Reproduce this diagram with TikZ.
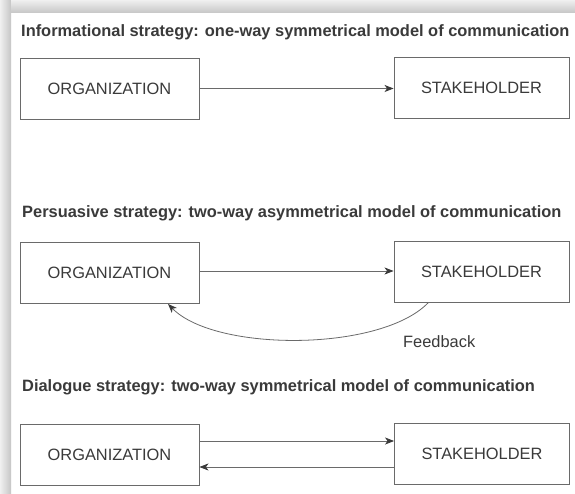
\documentclass[tikz,border=0pt]{standalone}
\usepackage{fontspec}
\setmainfont{Liberation Sans}
\usepackage{tikz}
\usetikzlibrary{arrows.meta}
\definecolor{inkgrey}{HTML}{3A3A3A}
\definecolor{linegrey}{HTML}{6A6A6A}

\tikzset{
  partybox/.style={draw=linegrey, line width=0.9pt, inner sep=0pt,
    minimum height=61pt, text=inkgrey,
    font=\fontsize{16.4}{19}\selectfont},
  headline/.style={anchor=west, inner sep=0pt, text=inkgrey,
    font=\bfseries\fontsize{16.4}{19}\selectfont},
  flow/.style={->, draw=linegrey, line width=0.8pt}
}

\begin{document}
\begin{tikzpicture}[x=1pt,y=-1pt,>={Stealth[length=9pt,width=7pt,inset=2.5pt,color=inkgrey]}]
        \useasboundingbox (0,0) rectangle (575,494);
        % page with its shadow
        \fill[white] (11,13) rectangle (575,494);
        \shade[left color=gray!12, right color=gray!45] (0,0) rectangle (11,494);
        \shade[top color=gray!12, bottom color=gray!45] (11,0) rectangle (575,13);

        % informational strategy
        \node[headline] (h1) at (21,32) {Informational strategy: one-way symmetrical model of communication};
        \node[partybox, minimum width=179pt] (org1) at (109.5,88.5) {ORGANIZATION};
        \node[partybox, minimum width=175pt] (stk1) at (481.5,87.5) {STAKEHOLDER};
        \draw[flow] (org1.east) -- (org1.east -| stk1.west);

        % persuasive strategy
        \node[headline] (h2) at (22,213) {Persuasive strategy: two-way asymmetrical model of communication};
        \node[partybox, minimum width=179pt] (org2) at (109.5,273) {ORGANIZATION};
        \node[partybox, minimum width=175pt] (stk2) at (481.5,272) {STAKEHOLDER};
        \draw[flow] ([yshift=2pt]org2.east) -- ([yshift=2pt]org2.east -| stk2.west);
        \coordinate (fbA) at (stk2.south -| 428,0);
        \coordinate (fbB) at (org2.south -| 168,0);
        \draw[flow] (fbA) .. controls (380,352) and (215,352) .. (fbB);
        \node[anchor=west, inner sep=0pt, text=inkgrey, font=\fontsize{16.4}{19}\selectfont] (fb) at (403,342) {Feedback};

        % dialogue strategy
        \node[headline] (h3) at (22,387) {Dialogue strategy: two-way symmetrical model of communication};
        \node[partybox, minimum width=179pt] (org3) at (109.5,455) {ORGANIZATION};
        \node[partybox, minimum width=175pt] (stk3) at (482,454) {STAKEHOLDER};
        \draw[flow] ([yshift=14pt]org3.east) -- ([yshift=14pt]org3.east -| stk3.west);
        \draw[flow] ([yshift=-12pt]org3.east -| stk3.west) -- ([yshift=-12pt]org3.east);
\end{tikzpicture}
\end{document}
